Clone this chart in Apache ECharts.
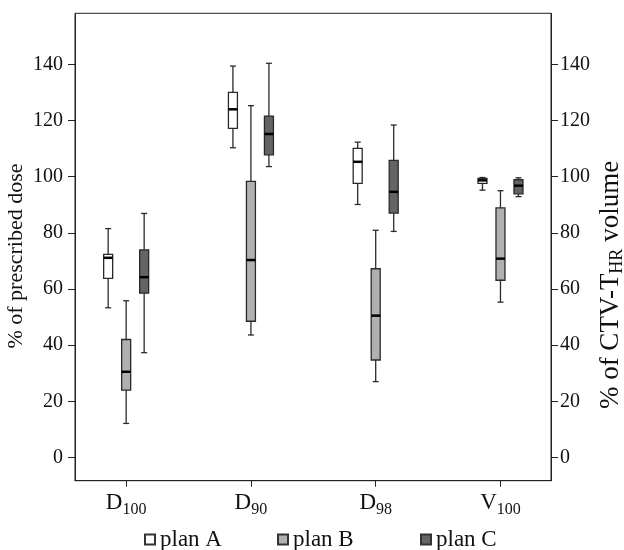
<!DOCTYPE html>
<html><head><meta charset="utf-8">
<script src="https://cdn.jsdelivr.net/npm/echarts@6/dist/echarts.min.js"></script>
<style>html,body{margin:0;padding:0;background:#fff}#c{width:624px;height:550px}</style>
</head><body><div id="c"></div>
<script>
// categories (main letter + subscript)
const categoryMain = ['D', 'D', 'D', 'V'];
const categorySub = ['100', '90', '98', '100'];
const planNames = ['plan A', 'plan B', 'plan C'];
// [min, Q1, median, Q3, max] per category
const planA = [[53.3, 63.8, 71.1, 72.3, 81.5], [110.3, 117.2, 124.0, 130.0, 139.4], [90.1, 97.6, 105.3, 110.1, 112.3], [95.2, 97.6, 98.7, 99.4, 99.7]];
const planB = [[12.1, 24.0, 30.5, 42.0, 55.8], [43.6, 48.5, 70.3, 98.3, 125.3], [27.0, 34.7, 50.5, 67.2, 80.9], [55.3, 63.1, 70.8, 88.9, 95.0]];
const planC = [[37.3, 58.5, 64.2, 73.9, 86.9], [103.6, 107.8, 115.2, 121.6, 140.4], [80.5, 87.0, 94.6, 105.8, 118.4], [92.9, 93.9, 96.8, 98.9, 99.6]];
const yTicks = [0, 20, 40, 60, 80, 100, 120, 140];
const xTicks = [0, 1, 2, 3];

const FONT = "'Liberation Serif', 'Times New Roman', serif";
const TXT = '#111';
const fills = ['#ffffff', '#b0b0b0', '#646464'];
const offsets = [-18, 0, 18];
const legendLefts = [144, 277, 420];

function makeRender(offset, fill) {
  return function (params, api) {
    const i = api.value(0);
    const cx = api.coord([i, 0])[0] + offset;
    const y = k => api.coord([i, api.value(k)])[1];
    const yMin = y(1), yQ1 = y(2), yMed = y(3), yQ3 = y(4), yMax = y(5);
    const bw = 9, cw = 6;
    const ws = { stroke: '#2a2a2a', lineWidth: 1.3 };
    return {
      type: 'group',
      children: [
        { type: 'line', shape: { x1: cx, y1: yMax, x2: cx, y2: yQ3 }, style: ws },
        { type: 'line', shape: { x1: cx, y1: yQ1, x2: cx, y2: yMin }, style: ws },
        { type: 'line', shape: { x1: cx - cw / 2, y1: yMax, x2: cx + cw / 2, y2: yMax }, style: ws },
        { type: 'line', shape: { x1: cx - cw / 2, y1: yMin, x2: cx + cw / 2, y2: yMin }, style: ws },
        { type: 'rect', shape: { x: cx - bw / 2, y: yQ3, width: bw, height: yQ1 - yQ3 }, style: { fill: fill, stroke: '#2a2a2a', lineWidth: 1.3 } },
        { type: 'line', shape: { x1: cx - bw / 2, y1: yMed, x2: cx + bw / 2, y2: yMed }, style: { stroke: '#000', lineWidth: 2.5 } }
      ]
    };
  };
}

const plans = [planA, planB, planC];
const series = plans.map((p, k) => ({
  name: planNames[k],
  type: 'custom',
  renderItem: makeRender(offsets[k], fills[k]),
  itemStyle: { color: fills[k], borderColor: '#333', borderWidth: 1 },
  encode: { x: 0, y: [1, 2, 3, 4, 5] },
  data: p.map((d, i) => [i].concat(d))
}));

const axisCommon = {
  axisLine: { show: true, onZero: false, lineStyle: { color: '#222', width: 1 } },
  splitLine: { show: false }
};

const option = {
  animation: false,
  backgroundColor: '#fff',
  grid: { left: 75, right: 73, top: 13.3, bottom: 69.3, containLabel: false, outerBoundsMode: 'none', show: true, borderColor: '#222', borderWidth: 1, backgroundColor: 'transparent' },
  legend: planNames.map((n, k) => ({
    data: [n], left: legendLefts[k], top: 528, padding: 0, itemGap: 0,
    itemWidth: 10, itemHeight: 10, icon: 'rect', selectedMode: false,
    textStyle: { fontSize: 23, fontFamily: FONT, color: TXT }
  })),
  xAxis: Object.assign({}, axisCommon, {
    type: 'value', min: -0.41, max: 3.405,
    axisTick: { show: true, length: 6, customValues: xTicks, lineStyle: { color: '#222' } },
    axisLabel: {
      customValues: xTicks, margin: 7.5,
      formatter: v => '{m|' + categoryMain[Math.round(v)] + '}{s|' + categorySub[Math.round(v)] + '}',
      rich: {
        m: { fontSize: 23, lineHeight: 30, fontFamily: FONT, color: TXT },
        s: { fontSize: 16, lineHeight: 16, verticalAlign: 'bottom', fontFamily: FONT, color: TXT }
      }
    }
  }),
  yAxis: [
    Object.assign({}, axisCommon, {
      type: 'value', min: -8.3, max: 158.2, position: 'left',
      name: '% of prescribed dose', nameLocation: 'middle', nameGap: 48, nameMoveOverlap: false,
      nameTextStyle: { fontSize: 22, fontFamily: FONT, color: TXT, padding: [0, 18, 0, 0] },
      axisTick: { show: true, length: 7, customValues: yTicks, lineStyle: { color: '#222' } },
      axisLabel: { customValues: yTicks, margin: 12, fontSize: 20, fontFamily: FONT, color: TXT }
    }),
    Object.assign({}, axisCommon, {
      type: 'value', min: -8.3, max: 158.2, position: 'right',
      name: '% of CTV-T{s|HR} volume', nameLocation: 'middle', nameGap: 45, nameMoveOverlap: false,
      nameTextStyle: {
        fontSize: 27, lineHeight: 30, fontFamily: FONT, color: TXT, padding: [0, 76, 0, 0],
        rich: { s: { fontSize: 18, lineHeight: 18, verticalAlign: 'bottom', fontFamily: FONT, color: TXT } }
      },
      axisTick: { show: true, length: 7, customValues: yTicks, lineStyle: { color: '#222' } },
      axisLabel: { customValues: yTicks, margin: 9, fontSize: 20, fontFamily: FONT, color: TXT }
    })
  ],
  series: series
};

const chart = echarts.init(document.getElementById('c'), null, { renderer: 'canvas' });
chart.setOption(option);
</script>
</body></html>
